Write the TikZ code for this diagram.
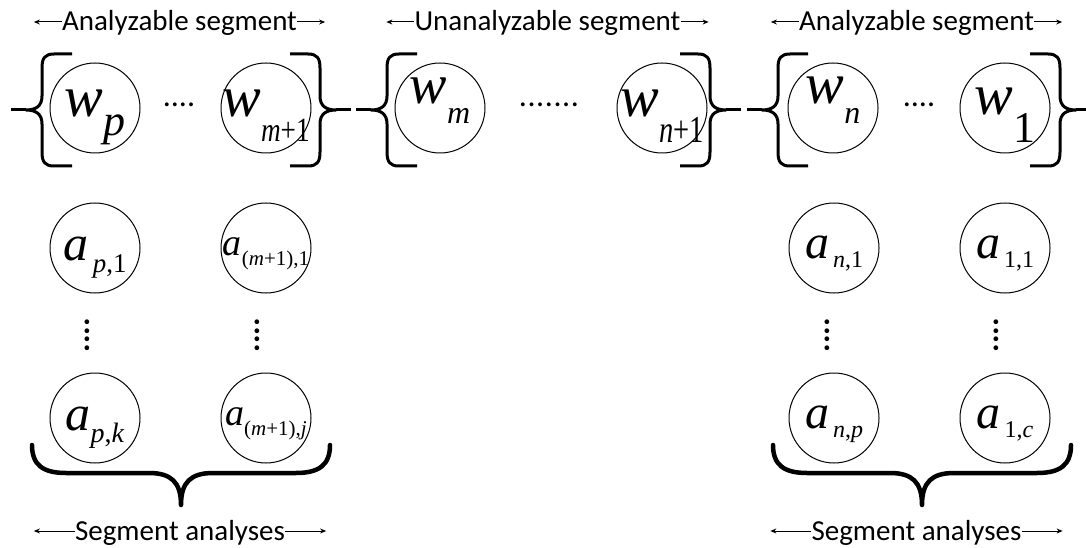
\documentclass[tikz,border=0pt]{standalone}
\usepackage{fontspec}
\usepackage{graphicx}
\setmainfont{Liberation Serif}
\newfontfamily\carl{Carlito}
\usetikzlibrary{arrows.meta}
% #1 base, #2 base size, #3 sub, #4 sub size, #5 sub drop, #6 baseline offset
\newcommand\clab[6]{\raisebox{-#6pt}[0pt][0pt]{{\itshape\fontsize{#2}{#2}\selectfont #1}\raisebox{-#5pt}{\fontsize{#4}{#4}\selectfont #3}}}
\tikzset{
  circ/.style={circle, draw, line width=1pt, minimum size=90pt, inner sep=0pt},
  brk/.style={line width=3pt, line join=round},
  brc/.style={line width=4.5pt, line join=round, line cap=round},
  lbl/.style={font=\carl\fontsize{29}{29}\selectfont, inner sep=0pt, anchor=base},
  dotsty/.style={font=\carl\fontsize{32}{32}\selectfont, inner sep=0pt},
  vdotsty/.style={font=\carl\bfseries\fontsize{32}{32}\selectfont, inner sep=0pt, rotate=90},
  arr/.style={line width=1pt, -{Stealth[length=6pt,width=5pt]}},
  lbr/.pic={\draw[brk] (30,54) -- (12,54) .. controls (3,54) and (0,58) .. (0,68) -- (0,96) .. controls (0,106) and (-6,110) .. (-16,110) .. controls (-6,110) and (0,114) .. (0,124) -- (0,152) .. controls (0,162) and (3,166) .. (12,166) -- (30,166);
    \draw[brk] (-16,110) -- (-31,110);},
  bbr/.pic={\draw[brc] (-149,445) .. controls (-149,465) and (-138,473) .. (-115,473) -- (-32,473) .. controls (-10,473) and (0,482) .. (0,505) .. controls (0,482) and (10,473) .. (32,473) -- (115,473) .. controls (138,473) and (149,465) .. (149,445);}
}
\begin{document}
\begin{tikzpicture}[x=1pt,y=-1pt]
\useasboundingbox (0,0) rectangle (1086,548);
\coordinate (ya) at (0,22);
\coordinate (yb) at (0,531);
% top labels
\node[lbl] (ta) at (179.5,31) {Analyzable segment};
\node[lbl] (tb) at (547.5,31) {Unanalyzable segment};
\node[lbl] (tc) at (916.5,31) {Analyzable segment};
\foreach \n in {ta,tb,tc}{
  \draw[arr] (\n.west |- ya) -- ++(-28,0);
  \draw[arr] (\n.east |- ya) -- ++(28,0);
}
% bottom labels
\node[lbl] (ba) at (180,540) {Segment analyses};
\node[lbl] (bb) at (916.5,540) {Segment analyses};
\foreach \n in {ba,bb}{
  \draw[arr] (\n.west |- yb) -- ++(-41,0);
  \draw[arr] (\n.east |- yb) -- ++(41,0);
}
% brackets
\pic at (42,0) {lbr};
\pic[xscale=-1] at (320,0) {lbr};
\pic at (387,0) {lbr};
\pic[xscale=-1] at (710,0) {lbr};
\pic at (778,0) {lbr};
\pic[xscale=-1] at (1060,0) {lbr};
% word nodes
\node[circ] (wp) at (95,108) {\clab{w}{58}{\textit{p}}{44}{19}{9}};
\node[circ] (wm1) at (266,108) {\clab{w}{58}{\scalebox{0.8}[1]{\textit{m}+1}}{34}{25}{9}};
\node[circ] (wm) at (440,108) {\clab{w}{56}{\textit{m}}{32}{20}{-4}};
\node[circ] (wn1) at (662,108) {\clab{w}{58}{\scalebox{0.75}[1]{\textit{n}+1}}{38}{26}{9}};
\node[circ] (wn) at (833,108) {\clab{w}{58}{\textit{n}}{32}{20}{-4}};
\node[circ] (w1) at (1005,108) {\clab{w}{58}{1}{44}{28}{7}};
\node[dotsty, anchor=base] (d1) at (179,107) {....};
\node[dotsty, anchor=base] (d2) at (549,107) {.\kern0.6pt.\kern0.6pt.\kern0.6pt.\kern0.6pt.\kern0.6pt.\kern0.6pt.};
\node[dotsty, anchor=base] (d3) at (919,107) {....};
% analyses
\node[circ] (ap1) at (95,248) {\clab{a}{50}{\,\textit{p},1}{27}{12}{12}};
\node[circ] (am1) at (266,248) {\clab{a}{38}{(\textit{m}+1),1}{21}{10}{7}};
\node[circ] (an1) at (834,248) {\clab{a}{48}{\,\textit{n},1}{24}{9}{10}};
\node[circ] (a11) at (1005,248) {\clab{a}{48}{\,1,1}{24}{9}{10}};
\node[circ] (apk) at (95,418) {\clab{a}{50}{\textit{p},\textit{k}}{28}{12}{12}};
\node[circ] (amj) at (266,418) {\clab{a}{38}{(\textit{m}+1),\textit{j}}{21}{10}{7}};
\node[circ] (anp) at (834,418) {\clab{a}{48}{\,\textit{n},\textit{p}}{24}{9}{10}};
\node[circ] (a1c) at (1005,418) {\clab{a}{48}{\,1,\textit{c}}{24}{9}{10}};
\node[vdotsty] (v1) at (87,335) {....};
\node[vdotsty] (v2) at (257,335) {....};
\node[vdotsty] (v3) at (827,335) {....};
\node[vdotsty] (v4) at (996,335) {....};
% bottom braces
\pic at (181,0) {bbr};
\pic at (922,0) {bbr};
\end{tikzpicture}
\end{document}
